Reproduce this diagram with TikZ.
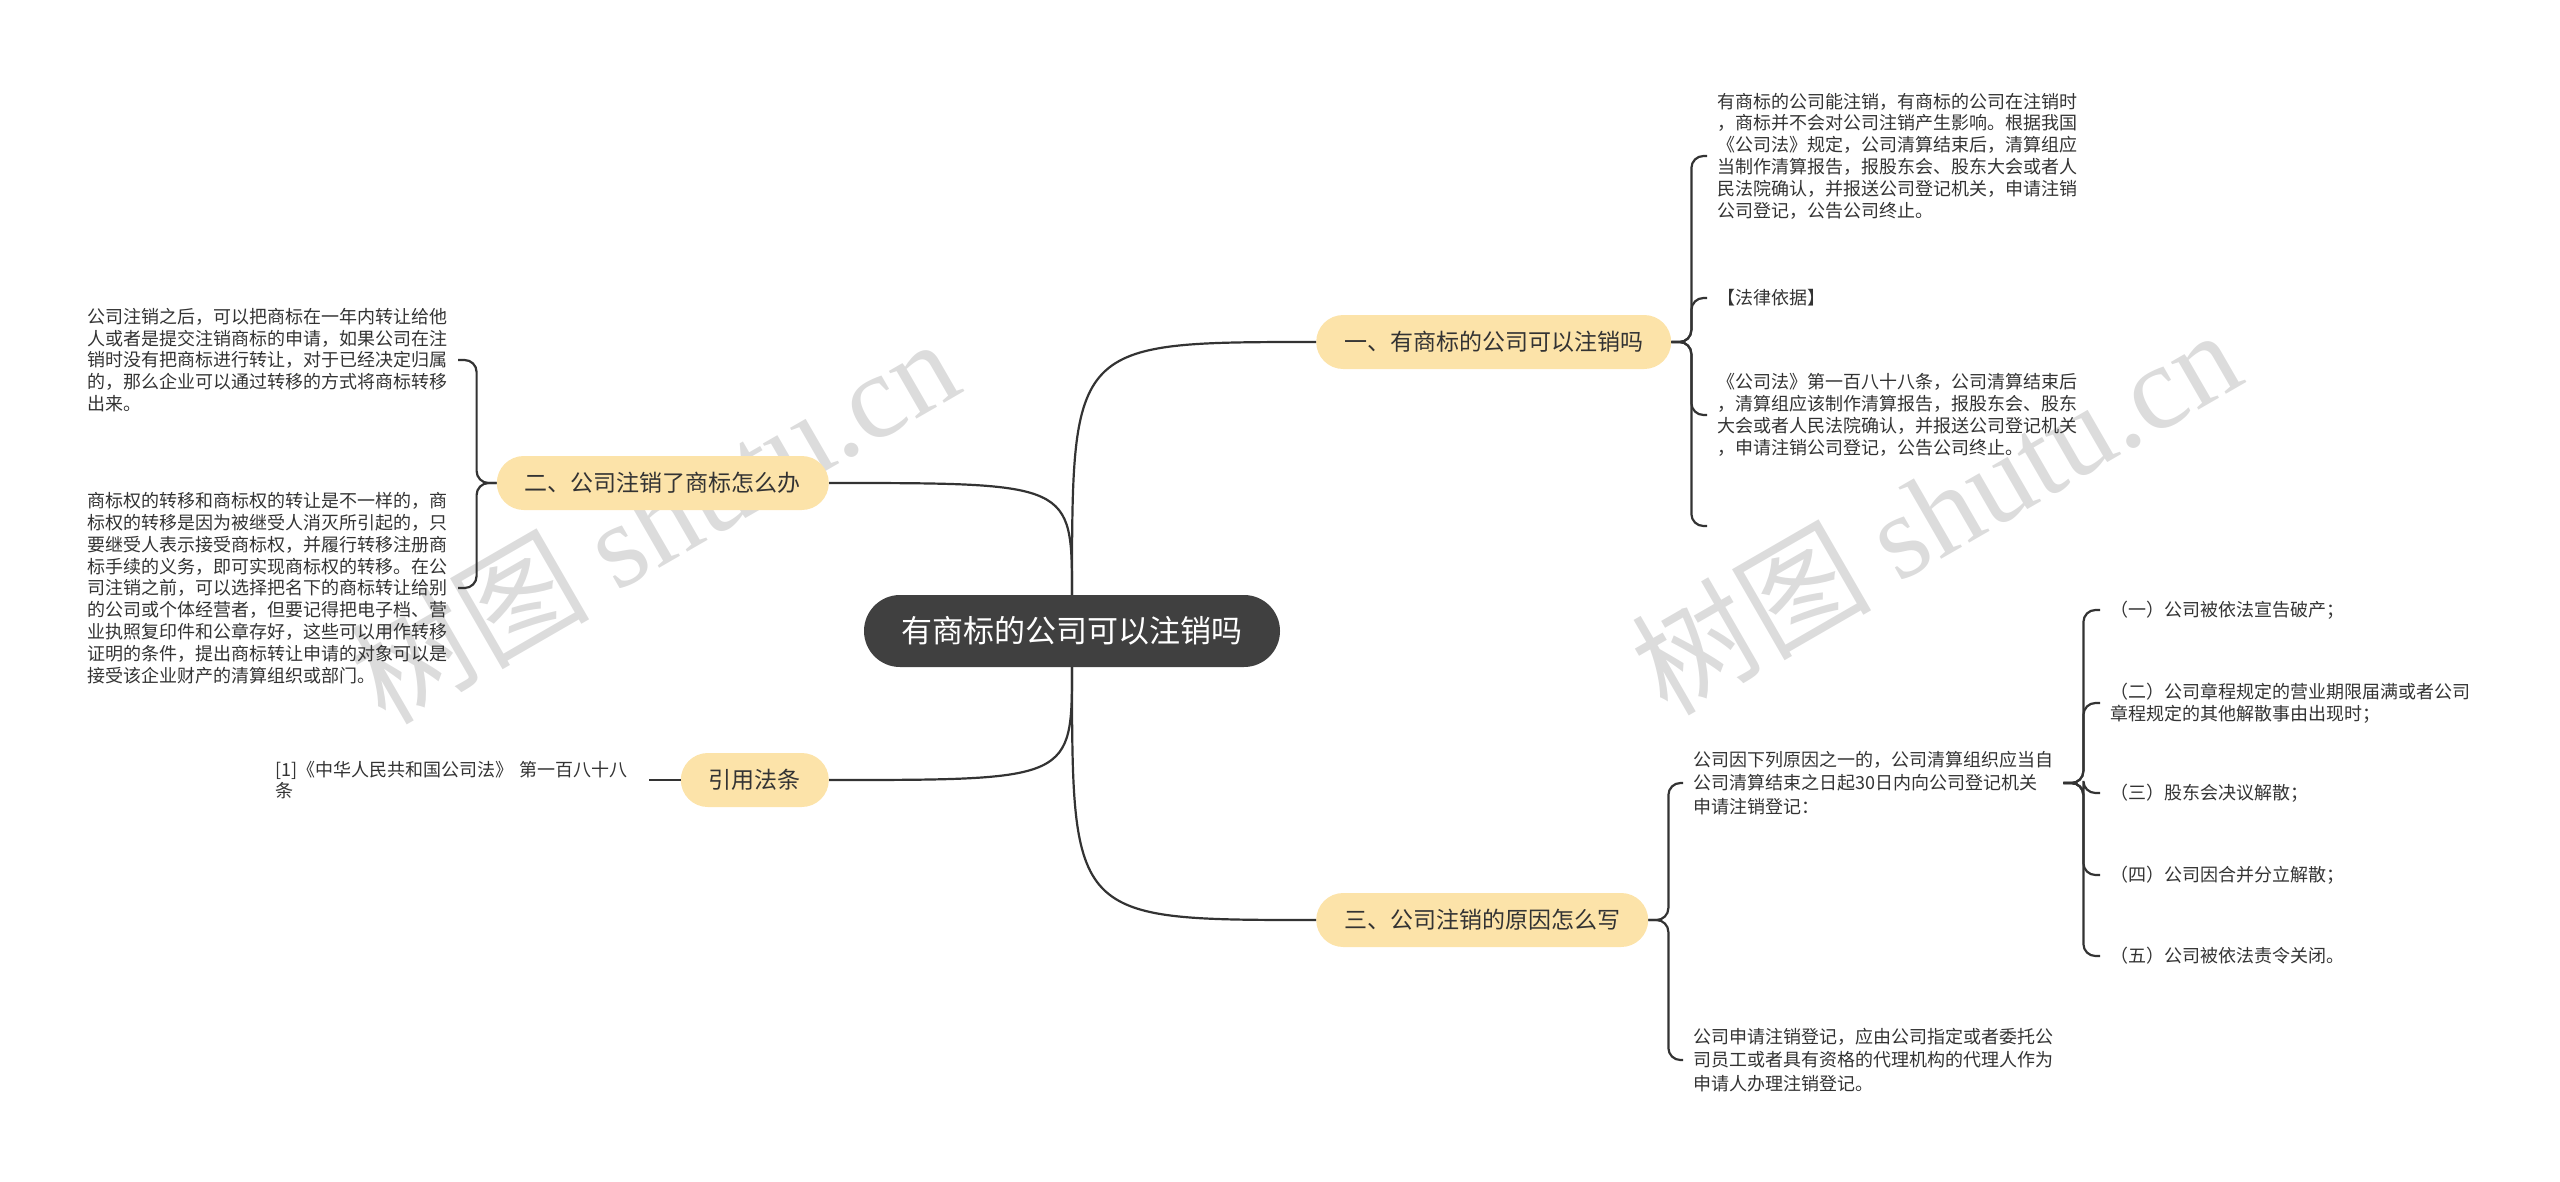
\documentclass[tikz,border=0pt]{standalone}
\usepackage{fontspec}
\setmainfont{Noto Sans CJK SC}
\newfontfamily\wmfont{Liberation Serif}
\definecolor{rootgray}{HTML}{404040}
\definecolor{topicfill}{HTML}{FCE3A9}
\definecolor{inkgray}{HTML}{333333}
\definecolor{markgray}{HTML}{DCDCDC}
\begin{document}
\begin{tikzpicture}[x=1pt,y=-1pt,
  root/.style={fill=rootgray,text=white,rounded corners=36pt,minimum height=72pt,minimum width=416pt,font=\fontsize{31}{36}\selectfont},
  topic/.style={fill=topicfill,text=inkgray,rounded corners=27pt,minimum height=54pt,inner xsep=28pt,font=\fontsize{23}{28}\selectfont},
  leaf/.style={text=inkgray,align=left,inner xsep=10pt,inner ysep=2pt,font=\fontsize{18}{21.8}\selectfont},
  wide/.style={leaf,font=\fontsize{18}{23.5}\selectfont},
  wmark/.style={text=markgray,rotate=30,font=\fontsize{120}{130}\selectfont},
  link/.style={draw=inkgray,line width=2.2pt},
  fork/.style={link,rounded corners=12pt}]
\useasboundingbox (0,0) rectangle (2560,1181);
% watermarks
\node[wmark] (wmleft) at (653,519) {树图 {\wmfont shutu.cn}};
\node[wmark] (wmright) at (1935,510) {树图 {\wmfont shutu.cn}};
% centre and main topics
\node[root] (root) at (1072,631) {有商标的公司可以注销吗};
\node[topic,anchor=west] (b1) at (1316,342) {一、有商标的公司可以注销吗};
\node[topic,anchor=east] (b2) at (829,483) {二、公司注销了商标怎么办};
\node[topic,anchor=west] (b3) at (1316,920) {三、公司注销的原因怎么写};
\node[topic,anchor=east] (b4) at (829,780) {引用法条};
\draw[link] (root.north) .. controls (root.north |- b1.west) .. (b1.west);
\draw[link] (root.north) .. controls (root.north |- b2.east) .. (b2.east);
\draw[link] (root.south) .. controls (root.south |- b3.west) .. (b3.west);
\draw[link] (root.south) .. controls (root.south |- b4.east) .. (b4.east);
% branch 1
\node[leaf,anchor=west] (c1) at (1707,156) {有商标的公司能注销，有商标的公司在注销时\\%
，商标并不会对公司注销产生影响。根据我国\\%
《公司法》规定，公司清算结束后，清算组应\\%
当制作清算报告，报股东会、股东大会或者人\\%
民法院确认，并报送公司登记机关，申请注销\\%
公司登记，公告公司终止。};
\node[leaf,anchor=west] (c2) at (1707,298) {【法律依据】};
\node[leaf,anchor=west] (c3) at (1707,415) {《公司法》第一百八十八条，公司清算结束后\\%
，清算组应该制作清算报告，报股东会、股东\\%
大会或者人民法院确认，并报送公司登记机关\\%
，申请注销公司登记，公告公司终止。};
\coordinate (c4) at (1707,526);
\foreach \c in {c1,c2,c3,c4}
  \draw[fork] (b1.east) -- ++(20,0) |- (\c.west);
% branch 2
\node[leaf,anchor=east] (d1) at (458,360) {公司注销之后，可以把商标在一年内转让给他\\%
人或者是提交注销商标的申请，如果公司在注\\%
销时没有把商标进行转让，对于已经决定归属\\%
的，那么企业可以通过转移的方式将商标转移\\%
出来。};
\node[leaf,anchor=east] (d2) at (458,588) {商标权的转移和商标权的转让是不一样的，商\\%
标权的转移是因为被继受人消灭所引起的，只\\%
要继受人表示接受商标权，并履行转移注册商\\%
标手续的义务，即可实现商标权的转移。在公\\%
司注销之前，可以选择把名下的商标转让给别\\%
的公司或个体经营者，但要记得把电子档、营\\%
业执照复印件和公章存好，这些可以用作转移\\%
证明的条件，提出商标转让申请的对象可以是\\%
接受该企业财产的清算组织或部门。};
\foreach \d in {d1,d2}
  \draw[fork] (b2.west) -- ++(-20,0) |- (\d.east);
% branch 3
\node[wide,anchor=west] (e1) at (1683,783) {公司因下列原因之一的，公司清算组织应当自\\%
公司清算结束之日起30日内向公司登记机关\\%
申请注销登记：};
\node[wide,anchor=west] (e2) at (1683,1060) {公司申请注销登记，应由公司指定或者委托公\\%
司员工或者具有资格的代理机构的代理人作为\\%
申请人办理注销登记。};
\foreach \e in {e1,e2}
  \draw[fork] (b3.east) -- ++(20,0) |- (\e.west);
\node[leaf,anchor=west] (f1) at (2100,610) {（一）公司被依法宣告破产；};
\node[leaf,anchor=west] (f2) at (2100,703) {（二）公司章程规定的营业期限届满或者公司\\%
章程规定的其他解散事由出现时；};
\node[leaf,anchor=west] (f3) at (2100,793) {（三）股东会决议解散；};
\node[leaf,anchor=west] (f4) at (2100,875) {（四）公司因合并分立解散；};
\node[leaf,anchor=west] (f5) at (2100,956) {（五）公司被依法责令关闭。};
\foreach \f in {f1,f2,f3,f4,f5}
  \draw[fork] (e1.east) -- ++(20,0) |- (\f.west);
% citation
\node[leaf,anchor=west,text width=364pt] (cite) at (265,780) {[1]《中华人民共和国公司法》 第一百八十八\\%
条};
\draw[link] (b4.west) -- (cite.east);
\end{tikzpicture}
\end{document}
